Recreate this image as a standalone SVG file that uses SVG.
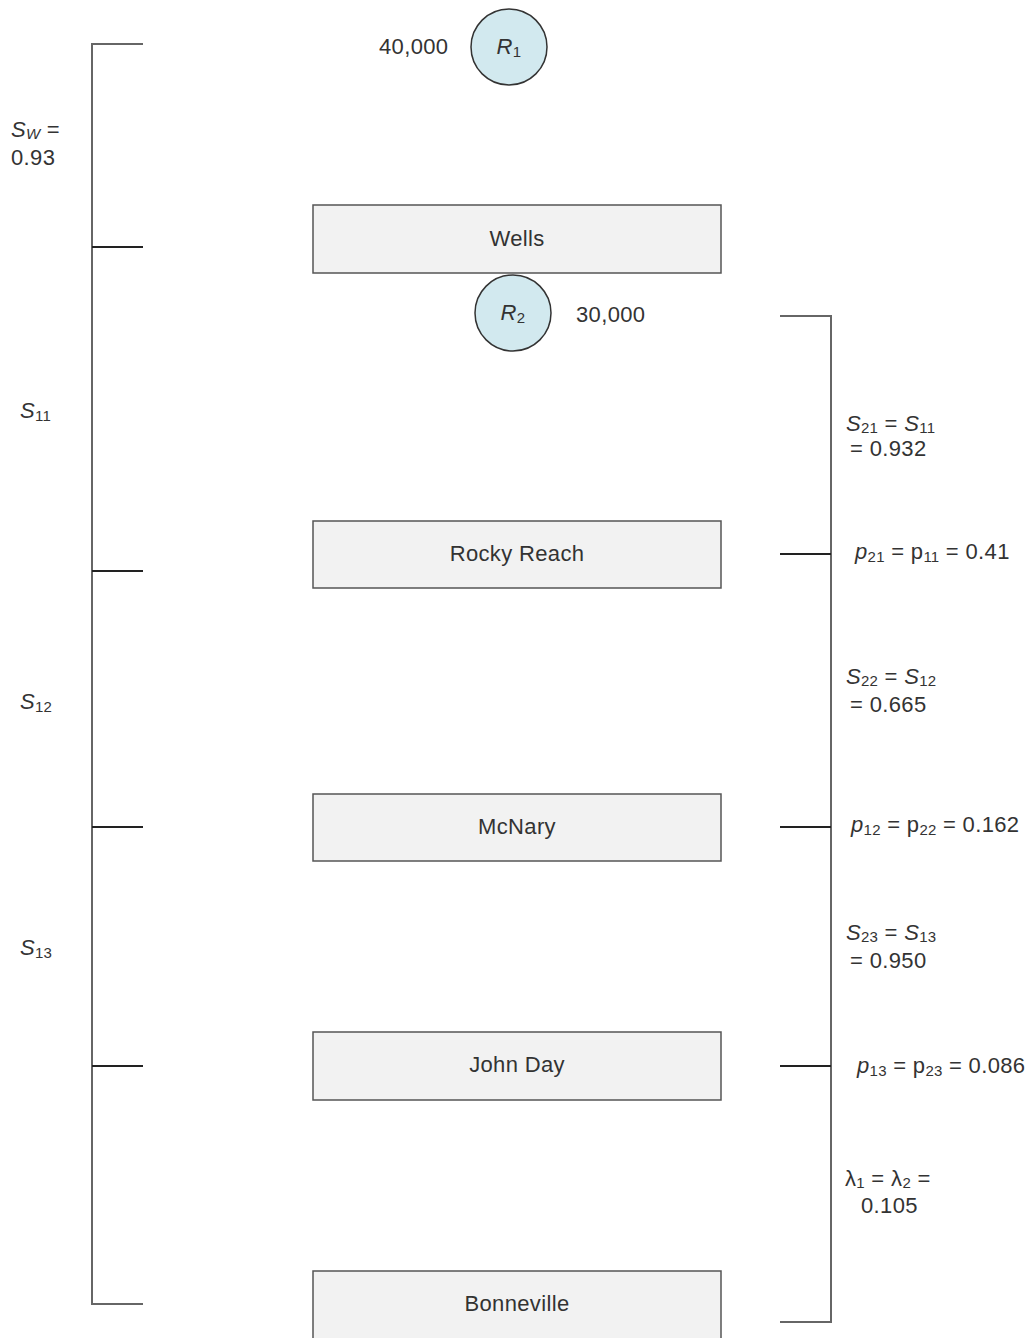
<svg xmlns="http://www.w3.org/2000/svg" width="1030" height="1338" viewBox="0 0 1030 1338">
<style>
text{font-family:"Liberation Sans",Arial,sans-serif;font-size:22px;letter-spacing:0.35px;fill:#333}
.sub{font-size:15px;letter-spacing:0.2px}
.i{font-style:italic}
.box{fill:#f2f2f2;stroke:#555;stroke-width:1.5}
.res{fill:#d2e9ef;stroke:#333;stroke-width:1.5}
.br{fill:none;stroke:#333;stroke-width:1.5}
.tk{stroke:#222;stroke-width:2}
.tkg{stroke:#666;stroke-width:2}
</style>
<rect width="1030" height="1338" fill="#fff"/>
<g id="connectors">
<line class="br" x1="92" y1="43" x2="92" y2="1305"/>
<line class="tkg" x1="91" y1="44" x2="143" y2="44"/>
<line class="tk" x1="92" y1="247" x2="143" y2="247"/>
<line class="tk" x1="92" y1="571" x2="143" y2="571"/>
<line class="tk" x1="92" y1="827" x2="143" y2="827"/>
<line class="tk" x1="92" y1="1066" x2="143" y2="1066"/>
<line class="tkg" x1="91" y1="1304" x2="143" y2="1304"/>
<line class="br" x1="831" y1="315" x2="831" y2="1323"/>
<line class="tkg" x1="780" y1="316" x2="832" y2="316"/>
<line class="tk" x1="780" y1="554" x2="831" y2="554"/>
<line class="tk" x1="780" y1="827" x2="831" y2="827"/>
<line class="tk" x1="780" y1="1066" x2="831" y2="1066"/>
<line class="tkg" x1="780" y1="1322" x2="832" y2="1322"/>
</g>
<g id="R1">
<circle class="res" cx="509" cy="47" r="38"/>
<text x="509" y="54" text-anchor="middle"><tspan class="i">R</tspan><tspan class="sub" dy="3">1</tspan></text>
<text x="379" y="54">40,000</text>
</g>
<g id="wells">
<rect class="box" x="313" y="205" width="408" height="68"/>
<text x="517" y="246" text-anchor="middle">Wells</text>
</g>
<g id="R2">
<circle class="res" cx="513" cy="313" r="38"/>
<text x="513" y="320" text-anchor="middle"><tspan class="i">R</tspan><tspan class="sub" dy="3">2</tspan></text>
<text x="576" y="322">30,000</text>
</g>
<g id="rocky-reach">
<rect class="box" x="313" y="521" width="408" height="67"/>
<text x="517" y="561" text-anchor="middle">Rocky Reach</text>
</g>
<g id="mcnary">
<rect class="box" x="313" y="794" width="408" height="67"/>
<text x="517" y="834" text-anchor="middle">McNary</text>
</g>
<g id="john-day">
<rect class="box" x="313" y="1032" width="408" height="68"/>
<text x="517" y="1072" text-anchor="middle">John Day</text>
</g>
<g id="bonneville">
<rect class="box" x="313" y="1271" width="408" height="70"/>
<text x="517" y="1311" text-anchor="middle">Bonneville</text>
</g>
<g id="left-labels">
<text x="11" y="137"><tspan class="i">S</tspan><tspan class="sub i" dy="2">W</tspan><tspan dy="-2"> =</tspan></text>
<text x="11" y="165">0.93</text>
<text x="20" y="418"><tspan class="i">S</tspan><tspan class="sub" dy="3">11</tspan></text>
<text x="20" y="709"><tspan class="i">S</tspan><tspan class="sub" dy="3">12</tspan></text>
<text x="20" y="955"><tspan class="i">S</tspan><tspan class="sub" dy="3">13</tspan></text>
</g>
<g id="right-labels">
<text x="846" y="431"><tspan class="i">S</tspan><tspan class="sub" dy="2">21</tspan><tspan dy="-2"> = </tspan><tspan class="i">S</tspan><tspan class="sub" dy="2">11</tspan></text>
<text x="850" y="456">= 0.932</text>
<text x="855" y="559"><tspan class="i">p</tspan><tspan class="sub" dy="3">21</tspan><tspan dy="-3"> = p</tspan><tspan class="sub" dy="3">11</tspan><tspan dy="-3"> = 0.41</tspan></text>
<text x="846" y="684"><tspan class="i">S</tspan><tspan class="sub" dy="2">22</tspan><tspan dy="-2"> = </tspan><tspan class="i">S</tspan><tspan class="sub" dy="2">12</tspan></text>
<text x="850" y="712">= 0.665</text>
<text x="851" y="832"><tspan class="i">p</tspan><tspan class="sub" dy="3">12</tspan><tspan dy="-3"> = p</tspan><tspan class="sub" dy="3">22</tspan><tspan dy="-3"> = 0.162</tspan></text>
<text x="846" y="940"><tspan class="i">S</tspan><tspan class="sub" dy="2">23</tspan><tspan dy="-2"> = </tspan><tspan class="i">S</tspan><tspan class="sub" dy="2">13</tspan></text>
<text x="850" y="968">= 0.950</text>
<text x="857" y="1073"><tspan class="i">p</tspan><tspan class="sub" dy="3">13</tspan><tspan dy="-3"> = p</tspan><tspan class="sub" dy="3">23</tspan><tspan dy="-3"> = 0.086</tspan></text>
<text x="845" y="1186">λ<tspan class="sub" dy="2">1</tspan><tspan dy="-2"> = λ</tspan><tspan class="sub" dy="2">2</tspan><tspan dy="-2"> =</tspan></text>
<text x="861" y="1213">0.105</text>
</g>
</svg>
